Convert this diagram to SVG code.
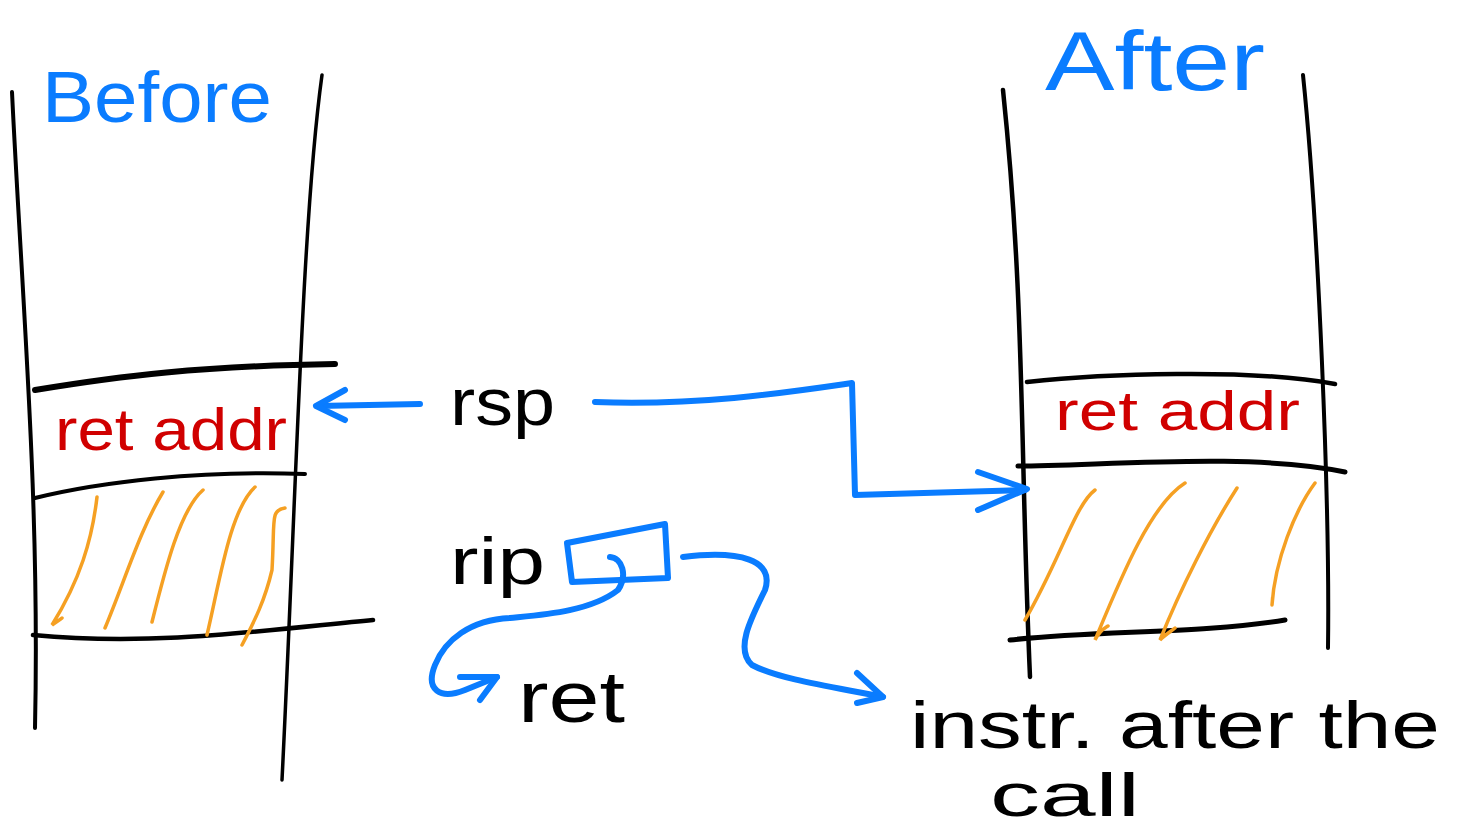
<svg xmlns="http://www.w3.org/2000/svg" width="1460" height="831" viewBox="0 0 1460 831">
<style>
.k{fill:none;stroke:#000;stroke-linecap:round;stroke-linejoin:round}
.b{fill:none;stroke:#0a7cff;stroke-width:6;stroke-linecap:round;stroke-linejoin:round}
.o{fill:none;stroke:#f5a023;stroke-width:3.5;stroke-linecap:round}
.t{font-family:"Liberation Sans",Arial,sans-serif}
.blue{fill:#0a7cff}
.red{fill:#d00000}
.blk{fill:#000}
</style>
<rect width="1460" height="831" fill="#fff"/>
<g id="before-stack">
<path class="k" stroke-width="4" d="M12,92 C22,300 40,500 35,728"/>
<path class="k" stroke-width="3.5" d="M322,75 C302,220 296,500 282,780"/>
<path class="k" stroke-width="6" d="M35,390 C120,376 200,366 335,364"/>
<path class="k" stroke-width="4" d="M35,498 C100,482 200,470 305,474"/>
<path class="k" stroke-width="4.5" d="M33,635 C150,646 250,632 373,620"/>
<path class="o" d="M97,497 C92,540 80,580 52,625 C56,622 60,620 62,618"/>
<path class="o" d="M163,492 C140,530 125,580 105,628"/>
<path class="o" d="M203,490 C180,510 165,570 152,622"/>
<path class="o" d="M255,487 C230,510 220,580 207,635"/>
<path class="o" d="M285,508 C270,510 275,520 272,570 C265,600 255,620 242,645"/>
<text class="t blue" x="42" y="122" font-size="72" textLength="230" lengthAdjust="spacingAndGlyphs">Before</text>
<text class="t red" x="55" y="450" font-size="60" textLength="232" lengthAdjust="spacingAndGlyphs">ret addr</text>
</g>
<g id="after-stack">
<path class="k" stroke-width="4.5" d="M1003,90 C1025,300 1020,450 1030,677"/>
<path class="k" stroke-width="4" d="M1303,75 C1318,220 1330,500 1328,648"/>
<path class="k" stroke-width="4.5" d="M1027,382 C1100,374 1250,368 1335,384"/>
<path class="k" stroke-width="5" d="M1018,466 C1100,466 1250,452 1345,472"/>
<path class="k" stroke-width="5" d="M1010,640 C1100,630 1200,634 1285,620"/>
<path class="o" d="M1095,490 C1075,505 1060,560 1025,620"/>
<path class="o" d="M1185,483 C1150,505 1120,580 1095,640 C1100,630 1105,628 1108,626"/>
<path class="o" d="M1237,488 C1210,530 1180,590 1160,640 C1165,635 1170,632 1175,628"/>
<path class="o" d="M1315,483 C1295,510 1275,560 1272,605"/>
<text class="t blue" x="1045" y="90" font-size="84" textLength="220" lengthAdjust="spacingAndGlyphs">After</text>
<text class="t red" x="1055" y="430" font-size="56" textLength="245" lengthAdjust="spacingAndGlyphs">ret addr</text>
</g>
<g id="labels">
<text class="t blk" x="450" y="425" font-size="66" textLength="105" lengthAdjust="spacingAndGlyphs">rsp</text>
<text class="t blk" x="450" y="584" font-size="66" textLength="95" lengthAdjust="spacingAndGlyphs">rip</text>
<text class="t blk" x="518" y="722" font-size="72" textLength="107" lengthAdjust="spacingAndGlyphs">ret</text>
<text class="t blk" x="910" y="748" font-size="66" textLength="530" lengthAdjust="spacingAndGlyphs">instr. after the</text>
<text class="t blk" x="990" y="816" font-size="62" textLength="150" lengthAdjust="spacingAndGlyphs">call</text>
</g>
<g id="rip-box">
<path class="b" d="M567,543 L665,524 L668,578 L572,582 Z"/>
</g>
<g id="connectors">
<path class="b" d="M420,404 L318,406"/>
<path class="b" d="M345,390 L316,406 L345,420"/>
<path class="b" d="M595,402 C700,406 790,392 852,383 L855,495 L1025,490"/>
<path class="b" d="M978,472 L1027,489 L978,510"/>
<path class="b" d="M610,557 C622,558 628,575 618,590 C590,612 540,615 510,618 C470,620 445,640 435,665 C425,690 440,700 465,690 L497,677"/>
<path class="b" d="M460,677 L497,677 L480,700"/>
<path class="b" d="M683,557 C740,550 775,560 765,590 C750,620 735,650 752,665 C780,680 840,688 883,697"/>
<path class="b" d="M857,673 L883,697 L857,703"/>
</g>
</svg>
